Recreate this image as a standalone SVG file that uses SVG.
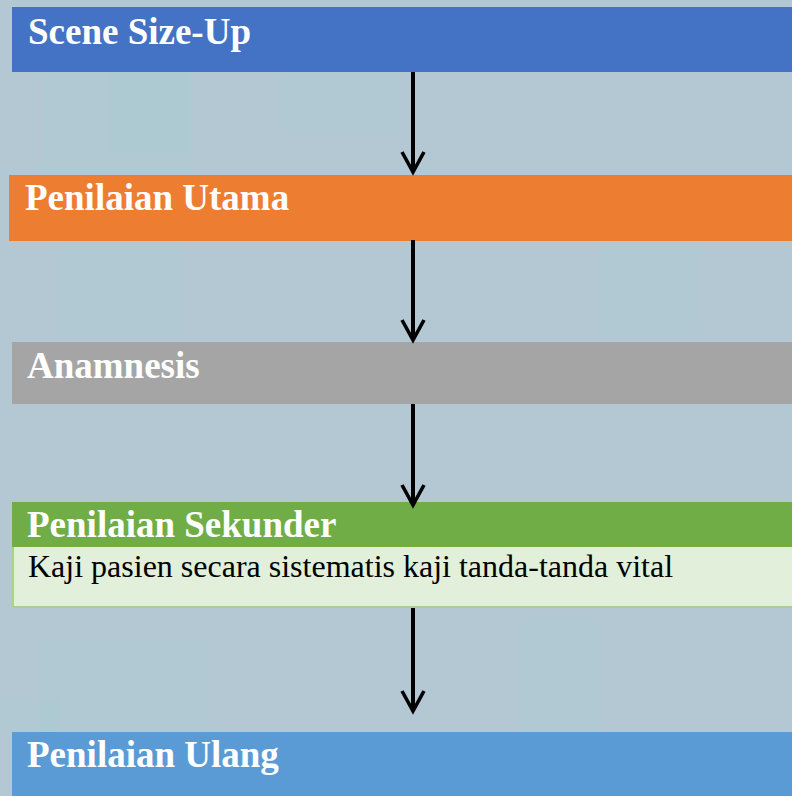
<svg xmlns="http://www.w3.org/2000/svg" width="792" height="796" viewBox="0 0 792 796">
  <style>
    .title { font-family: "Liberation Serif", "Times New Roman", serif; font-weight: bold; font-size: 37px; fill: #ffffff; }
    .body { font-family: "Liberation Serif", "Times New Roman", serif; font-size: 32px; fill: #000000; }
    .conn { stroke: #000000; stroke-width: 4; fill: none; }
    .tex { fill: #a9cbd1; opacity: 0.35; }
  </style>
  <defs>
    <marker id="vhead" markerUnits="userSpaceOnUse" viewBox="-4 -4 30 30" markerWidth="30" markerHeight="30" refX="20" refY="11" orient="auto">
      <polyline points="0,0 20,11 0,22" fill="none" stroke="#000000" stroke-width="3.6" stroke-linejoin="miter"/>
    </marker>
  </defs>

  <rect x="0" y="0" width="792" height="796" fill="#b4c8d4"/>
  <g id="background-texture">
    <rect class="tex" x="42" y="72" width="150" height="100"/>
    <rect class="tex" x="110" y="72" width="80" height="80"/>
    <rect class="tex" x="280" y="72" width="120" height="60"/>
    <rect class="tex" x="60" y="245" width="120" height="90"/>
    <rect class="tex" x="600" y="245" width="100" height="90"/>
    <rect class="tex" x="40" y="640" width="170" height="90"/>
    <rect class="tex" x="520" y="620" width="80" height="110"/>
    <rect class="tex" x="0" y="700" width="60" height="32"/>
  </g>

  <g id="node-scene-size-up">
    <rect x="12" y="7" width="780" height="65" fill="#4472c4"/>
    <text class="title" x="28" y="44">Scene Size-Up</text>
  </g>

  <g id="node-penilaian-utama">
    <rect x="9" y="175" width="783" height="66" fill="#ed7d31"/>
    <text class="title" x="25" y="210">Penilaian Utama</text>
  </g>

  <g id="node-anamnesis">
    <rect x="12" y="342" width="780" height="62" fill="#a5a5a5"/>
    <text class="title" x="27" y="378">Anamnesis</text>
  </g>

  <g id="node-penilaian-sekunder">
    <rect x="12" y="547" width="781" height="61" fill="#e2efda"/>
    <path d="M13,547 V607 H792" fill="none" stroke="#a9d18e" stroke-width="2"/>
    <rect x="12" y="502" width="780" height="45" fill="#70ad47"/>
    <text class="title" x="27" y="537">Penilaian Sekunder</text>
    <text class="body" x="28" y="577">Kaji pasien secara sistematis kaji tanda-tanda vital</text>
  </g>

  <g id="node-penilaian-ulang">
    <rect x="12" y="732" width="780" height="64" fill="#5b9bd5"/>
    <text class="title" x="27" y="767">Penilaian Ulang</text>
  </g>

  <g id="connectors">
    <line class="conn" x1="413" y1="72" x2="413" y2="172" marker-end="url(#vhead)"/>
    <line class="conn" x1="413" y1="240" x2="413" y2="340" marker-end="url(#vhead)"/>
    <line class="conn" x1="413" y1="404" x2="413" y2="505" marker-end="url(#vhead)"/>
    <line class="conn" x1="413" y1="608" x2="413" y2="711" marker-end="url(#vhead)"/>
  </g>
</svg>
